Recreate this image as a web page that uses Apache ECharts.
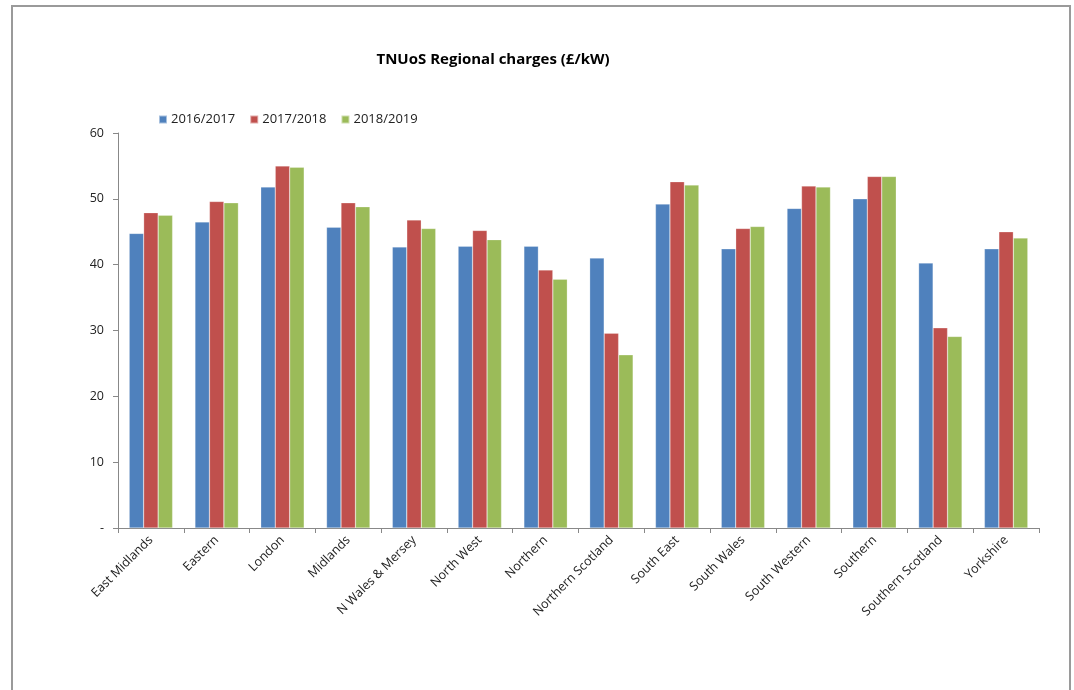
<!DOCTYPE html>
<html>
<head>
<meta charset="utf-8">
<script src="https://cdn.jsdelivr.net/npm/echarts@6/dist/echarts.min.js"></script>
<style>
html,body{margin:0;padding:0;background:#fff;}
#chart{width:1074px;height:690px;}
</style>
</head>
<body>
<div id="chart"></div>
<script>
const categories = ["East Midlands","Eastern","London","Midlands","N Wales & Mersey","North West","Northern","Northern Scotland","South East","South Wales","South Western","Southern","Southern Scotland","Yorkshire"];
const seriesNames = ["2016/2017","2017/2018","2018/2019"];
const v2016 = [44.75,46.5,51.8,45.7,42.7,42.8,42.8,41.0,49.2,42.4,48.55,50.0,40.25,42.4];
const v2017 = [47.9,49.6,55.0,49.4,46.8,45.2,39.2,29.6,52.6,45.5,51.95,53.4,30.4,45.0];
const v2018 = [47.5,49.4,54.8,48.8,45.5,43.8,37.8,26.3,52.1,45.8,51.8,53.4,29.1,44.05];
const yTicks = [0,10,20,30,40,50,60];

const colors = ['#4F81BD','#C0504D','#9BBB59'];
const font = '"Open Sans", "Liberation Sans", sans-serif';
const chart = echarts.init(document.getElementById('chart'), null, {renderer:'canvas'});
const data = [v2016, v2017, v2018];
chart.setOption({
  animation: false,
  backgroundColor: '#fff',
  color: colors,
  graphic: [{
    type: 'rect', shape: {x: 12, y: 6, width: 1058, height: 700},
    style: {fill: 'none', stroke: '#9a9a9a', lineWidth: 2}, silent: true
  }],
  title: {
    text: 'TNUoS Regional charges (£/kW)',
    left: 488, top: 47, textAlign: 'center',
    textStyle: {fontFamily: font, fontSize: 15, fontWeight: 'bold', color: '#000'}
  },
  legend: {
    data: seriesNames,
    left: 153, top: 108,
    itemWidth: 8, itemHeight: 8, itemGap: 14,
    icon: 'rect',
    textStyle: {fontFamily: font, fontSize: 13, color: '#222', padding: [0,0,0,-1]}
  },
  grid: {left: 118, right: 35, top: 133, bottom: 162, containLabel: false},
  xAxis: {
    type: 'category', data: categories,
    axisLine: {lineStyle: {color: '#888', width: 1}},
    axisTick: {show: true, alignWithLabel: false, length: 5, lineStyle: {color: '#888'}},
    axisLabel: {rotate: 45, interval: 0, margin: 10, fontFamily: font, fontSize: 12.5, color: '#222'}
  },
  yAxis: {
    type: 'value', min: yTicks[0], max: yTicks[yTicks.length-1], interval: 10,
    axisLine: {show: true, lineStyle: {color: '#888', width: 1}},
    axisTick: {show: true, length: 5, lineStyle: {color: '#888'}},
    splitLine: {show: false},
    axisLabel: {margin: 14, fontFamily: font, fontSize: 12.5, color: '#222',
      formatter: function(v){ return v === 0 ? '-' : String(v); }}
  },
  series: seriesNames.map((n, i) => ({
    name: n, type: 'bar', data: data[i],
    barGap: '0%', barCategoryGap: '34%',
    itemStyle: {color: colors[i], borderColor: 'rgba(255,255,255,0.5)', borderWidth: 0.5}
  }))
});
</script>
</body>
</html>
